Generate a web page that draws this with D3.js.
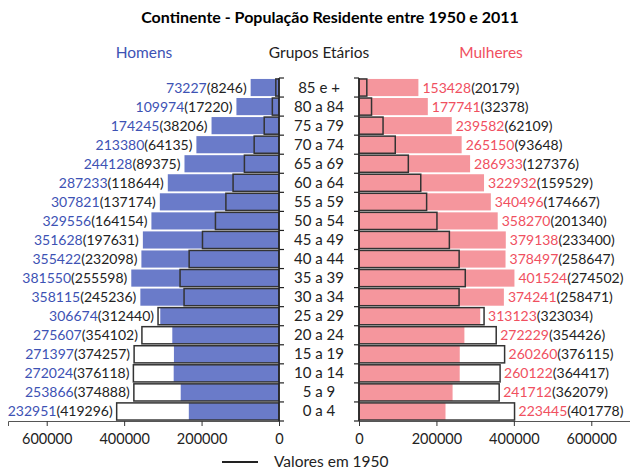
<!DOCTYPE html>
<html><head><meta charset="utf-8">
<script src="https://cdn.jsdelivr.net/npm/d3@7"></script>
<style>body{margin:0;background:#fff}svg{display:block}text{font-family:Lato,"Open Sans",sans-serif}</style>
</head><body><svg id="c" width="630" height="472"></svg>
<script>
const ageGroups = ["85 e +","80 a 84","75 a 79","70 a 74","65 a 69","60 a 64","55 a 59","50 a 54","45 a 49","40 a 44","35 a 39","30 a 34","25 a 29","20 a 24","15 a 19","10 a 14","5 a 9","0 a 4"];
const men2011 = [73227,109974,174245,213380,244128,287233,307821,329556,351628,355422,381550,358115,306674,275607,271397,272024,253866,232951];
const men1950 = [8246,17220,38206,64135,89375,118644,137174,164154,197631,232098,255598,245236,312440,354102,374257,376118,374888,419296];
const women2011 = [153428,177741,239582,265150,286933,322932,340496,358270,379138,378497,401524,374241,313123,272229,260260,260122,241712,223445];
const women1950 = [20179,32378,62109,93648,127376,159529,174667,201340,233400,258647,274502,258471,323034,354426,376115,364417,362079,401778];
const axisTicks = [0,200000,400000,600000];
const title = "Continente - População Residente entre 1950 e 2011";

const svg = d3.select("#c");
const plotTop = 78, plotBottom = 421;
const y = d3.scaleBand().domain(ageGroups).range([plotTop,plotBottom]).paddingInner(0.1).paddingOuter(0.05);
const xL = d3.scaleLinear().domain([0,700000]).range([279,8]);
const xR = d3.scaleLinear().domain([0,700000]).range([359,630]);
const blue="#6a7bc9", pink="#f5969d", blueT="#3d52b4", pinkT="#f0505f";

svg.append("text").attr("x",330).attr("y",23).attr("text-anchor","middle").attr("font-weight","bold").attr("font-size",16).text(title);
svg.append("text").attr("x",144).attr("y",58).attr("text-anchor","middle").attr("font-size",15.5).attr("fill",blueT).text("Homens");
svg.append("text").attr("x",319).attr("y",58).attr("text-anchor","middle").attr("font-size",15.5).attr("fill","#222").text("Grupos Etários");
svg.append("text").attr("x",491).attr("y",58).attr("text-anchor","middle").attr("font-size",15.5).attr("fill",pinkT).text("Mulheres");

const idx = d3.range(ageGroups.length);
// 2011 bars
svg.append("g").selectAll("rect").data(idx).join("rect")
  .attr("x",i=>xL(men2011[i])).attr("width",i=>xL(0)-xL(men2011[i]))
  .attr("y",i=>y(ageGroups[i])).attr("height",y.bandwidth()).attr("fill",blue);
svg.append("g").selectAll("rect").data(idx).join("rect")
  .attr("x",xR(0)).attr("width",i=>xR(women2011[i])-xR(0))
  .attr("y",i=>y(ageGroups[i])).attr("height",y.bandwidth()).attr("fill",pink);
// 1950 outlines
svg.append("g").selectAll("rect").data(idx).join("rect")
  .attr("x",i=>xL(men1950[i])).attr("width",i=>xL(0)-xL(men1950[i]))
  .attr("y",i=>y(ageGroups[i])).attr("height",y.bandwidth()).attr("fill","none").attr("stroke","#333").attr("stroke-width",1.5);
svg.append("g").selectAll("rect").data(idx).join("rect")
  .attr("x",xR(0)).attr("width",i=>xR(women1950[i])-xR(0))
  .attr("y",i=>y(ageGroups[i])).attr("height",y.bandwidth()).attr("fill","none").attr("stroke","#333").attr("stroke-width",1.5);

// vertical axes
const bounds = ageGroups.map(a=>y(a)-y.step()*y.paddingInner()/2).concat([plotBottom]);
function vAxis(x, dir){
  const g = svg.append("g");
  g.append("line").attr("x1",x).attr("x2",x).attr("y1",plotTop).attr("y2",plotBottom).attr("stroke","#222").attr("stroke-width",1.5);
  g.selectAll("line.t").data(bounds).join("line").attr("class","t")
    .attr("x1",x).attr("x2",x+dir*5).attr("y1",d=>d).attr("y2",d=>d).attr("stroke","#222").attr("stroke-width",1.2);
}
vAxis(xL(0),1); vAxis(xR(0),-1);

// bottom axes
const axL = d3.axisBottom(xL).tickValues(axisTicks).tickSize(5).tickPadding(8).tickFormat(d3.format("d"));
const axR = d3.axisBottom(xR).tickValues(axisTicks).tickSize(5).tickPadding(8).tickFormat(d3.format("d"));
[axL,axR].forEach(ax=>{
  const g = svg.append("g").attr("transform",`translate(0,${plotBottom})`).call(ax);
  g.select(".domain").attr("stroke","#555").attr("stroke-width",1);
  g.selectAll(".tick line").attr("stroke","#333");
  g.selectAll("text").attr("font-size",14.5).attr("fill","#222").attr("font-family","Lato");
});

// age labels
svg.append("g").selectAll("text").data(idx).join("text")
  .attr("x",319).attr("y",i=>y(ageGroups[i])+y.bandwidth()/2+5)
  .attr("text-anchor","middle").attr("font-size",15).attr("fill","#222").text(i=>ageGroups[i]);

// value labels
const ml = svg.append("g").selectAll("text").data(idx).join("text")
  .attr("x",i=>xL(Math.max(men2011[i],men1950[i]))-4)
  .attr("y",i=>y(ageGroups[i])+y.bandwidth()/2+5)
  .attr("text-anchor","end").attr("font-size",14);
ml.append("tspan").attr("fill",blueT).text(i=>men2011[i]);
ml.append("tspan").attr("fill","#222").text(i=>"("+men1950[i]+")");
const wl = svg.append("g").selectAll("text").data(idx).join("text")
  .attr("x",i=>xR(Math.max(women2011[i],women1950[i]))+4)
  .attr("y",i=>y(ageGroups[i])+y.bandwidth()/2+5)
  .attr("text-anchor","start").attr("font-size",14);
wl.append("tspan").attr("fill",pinkT).text(i=>women2011[i]);
wl.append("tspan").attr("fill","#222").text(i=>"("+women1950[i]+")");

// legend
svg.append("line").attr("x1",222).attr("x2",258).attr("y1",462).attr("y2",462).attr("stroke","#222").attr("stroke-width",2);
svg.append("text").attr("x",274).attr("y",467).attr("font-size",15.5).attr("fill","#222").text("Valores em 1950");
</script></body></html>
